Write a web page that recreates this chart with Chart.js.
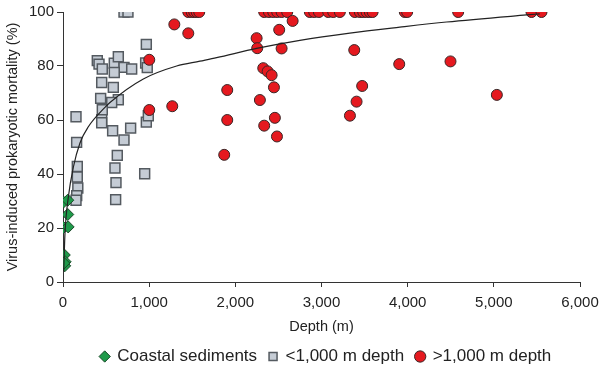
<!DOCTYPE html>
<html>
<head>
<meta charset="utf-8">
<script src="https://cdn.jsdelivr.net/npm/chart.js@4/dist/chart.umd.min.js"></script>
<style>
  html, body { margin: 0; padding: 0; background: #fff; }
</style>
</head>
<body>
<canvas id="chart" width="600" height="369"></canvas>
<script>
// coastal sediments
const coastalDepth = [5, 55, 55, 5, 60, 15, 25, 20, 10];
const coastalMort  = [29.6, 30.3, 25, 20.2, 20.4, 10, 7.5, 6, 7];

// <1,000 m depth
const shallowDepth = [708, 754, 967, 398, 418, 456, 595, 642, 708, 797, 595, 959, 978, 449, 584, 437, 642, 565,
  456, 449, 449, 151, 158, 576, 785, 708, 967, 990, 630, 603, 615, 611, 948, 166, 166, 172, 159, 151];
const shallowMort  = [100, 100, 88, 82, 80.7, 78.9, 81, 83.4, 79.5, 78.9, 77.6, 81.1, 79.4, 73.9, 72.1, 68, 67.5, 66.5,
  63.8, 60.1, 59, 61.2, 51.7, 56, 57, 52.6, 59.2, 61.6, 46.9, 42.2, 36.8, 30.5, 40.1, 42.8, 38.9, 34.8, 32, 30.3];

// >1,000 m depth
const deepDepth = [1454, 1493, 1523, 1551, 1581, 2335, 2390, 2440, 2486, 2537, 2602, 2865, 2915, 2970,
  3078, 3136, 3213, 3387, 3445, 3484, 3523, 3561, 3593, 3967, 3994, 4586, 5437, 5553,
  1292, 1454, 1001, 1906, 1268, 1001, 1906, 1871, 2247, 2254, 2509, 2665, 2537, 2324, 2375, 2421,
  2448, 2285, 2459, 2335, 2483, 3380, 3472, 3407, 3330, 3902, 4497, 5035];
const deepMort  = [100, 100, 100, 100, 100, 100, 100, 100, 100, 100, 100, 100, 100, 100,
  100, 100, 100, 100, 100, 100, 100, 100, 100, 100, 100, 100, 100, 100,
  95.4, 92.1, 82.3, 71.1, 65.1, 63.7, 60, 47.1, 90.3, 86.6, 93.4, 96.7, 86.5, 79.2, 78, 76.6,
  72.1, 67.4, 60.8, 57.9, 53.9, 85.9, 72.6, 66.8, 61.6, 80.7, 81.7, 69.3];

// fitted curve
const fitDepth = [8, 23, 62, 120, 197, 294, 487, 545, 932, 1319, 1589, 1783, 2247, 2749, 3329, 3909, 4451, 5379, 5533];
const fitMort  = [4, 18, 31.5, 42.5, 51.5, 57.5, 64.7, 66.5, 75.2, 80, 81.8, 83.1, 86.5, 89.5, 92.2, 94.4, 96.3, 98.9, 99.3];

const xTicks = [0, 1000, 2000, 3000, 4000, 5000, 6000];
const yTicks = [0, 20, 40, 60, 80, 100];

const pts = (xs, ys) => xs.map((x, i) => ({ x: x, y: ys[i] }));

Chart.defaults.font.family = '"Liberation Sans", Arial, sans-serif';
Chart.defaults.font.size = 15;
Chart.defaults.color = '#222';

// legend in the original sits centred under the plot, not the canvas
const shiftLegend = {
  id: 'shiftLegend',
  afterLayout(chart) {
    if (chart.legend) {
      chart.legend.left += 36;
      chart.legend.right += 36;
    }
  }
};

const ctx = document.getElementById('chart').getContext('2d');

new Chart(ctx, {
  type: 'scatter',
  data: {
    datasets: [
      {
        label: 'Coastal sediments',
        data: pts(coastalDepth, coastalMort),
        pointStyle: 'rectRot',
        pointRadius: 6,
        backgroundColor: '#1f9a4a',
        borderColor: '#1c4a2a',
        borderWidth: 1,
        order: 2
      },
      {
        label: '<1,000 m depth',
        data: pts(shallowDepth, shallowMort),
        pointStyle: 'rect',
        pointRadius: 7,
        backgroundColor: '#c5ccd5',
        borderColor: '#545a60',
        borderWidth: 1.5,
        order: 3
      },
      {
        label: '>1,000 m depth',
        data: pts(deepDepth, deepMort),
        pointStyle: 'circle',
        pointRadius: 5.5,
        backgroundColor: '#e5191f',
        borderColor: '#3a2626',
        borderWidth: 1,
        order: 1
      },
      {
        label: 'fit',
        data: pts(fitDepth, fitMort),
        showLine: true,
        pointRadius: 0,
        borderColor: '#222',
        borderWidth: 1.2,
        tension: 0.4,
        cubicInterpolationMode: 'monotone',
        order: 0
      }
    ]
  },
  plugins: [shiftLegend],
  options: {
    responsive: false,
    animation: false,
    layout: { padding: { top: 11, right: 20, left: 0, bottom: -6 } },
    plugins: {
      tooltip: { enabled: false },
      legend: {
        position: 'bottom',
        labels: {
          usePointStyle: true,
          boxWidth: 8,
          boxHeight: 8,
          padding: 12,
          color: '#222',
          font: { size: 17 },
          filter: item => item.datasetIndex < 3,
          sort: (a, b) => a.datasetIndex - b.datasetIndex
        }
      }
    },
    scales: {
      x: {
        type: 'linear',
        min: 0,
        max: 6000,
        afterBuildTicks: axis => { axis.ticks = xTicks.map(v => ({ value: v })); },
        afterFit: axis => { axis.height = 54; axis.paddingRight = 0; },
        ticks: {
          padding: 7,
          color: '#222',
          callback: v => v.toLocaleString('en-US')
        },
        grid: { display: true, drawOnChartArea: false, drawTicks: true, tickLength: 5, color: '#333' },
        border: { display: true, color: '#333', width: 1 },
        title: { display: true, text: 'Depth (m)', color: '#222', font: { size: 14.5 }, padding: { top: 6, bottom: 0 } }
      },
      y: {
        min: 0,
        max: 100,
        afterBuildTicks: axis => { axis.ticks = yTicks.map(v => ({ value: v })); },
        afterFit: axis => { axis.width = 63; },
        ticks: { padding: 3, color: '#222' },
        grid: { display: true, drawOnChartArea: false, drawTicks: true, tickLength: 6, color: '#333' },
        border: { display: true, color: '#333', width: 1 },
        title: { display: true, text: 'Virus-induced prokaryotic mortality (%)', color: '#222', font: { size: 14.5 }, padding: { top: 4, bottom: 2 } }
      }
    }
  }
});
</script>
</body>
</html>
